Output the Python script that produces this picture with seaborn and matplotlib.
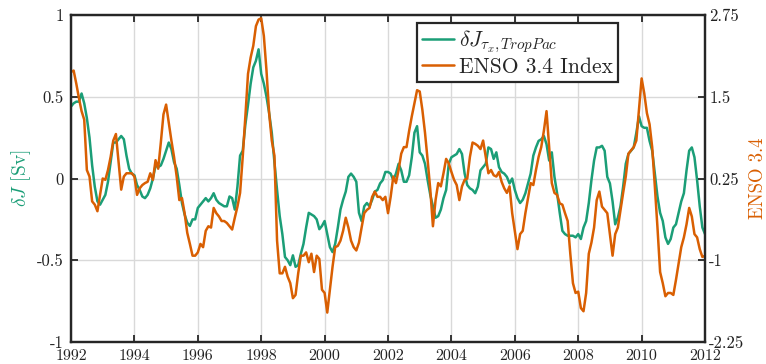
import numpy as np
import pandas as pd
import matplotlib
matplotlib.use("Agg")
import matplotlib.pyplot as plt
import seaborn as sns

# Monthly series, January 1992 through January 2012
start_year = 1992
end_year = 2012

# Wind-stress driven transport anomaly in the tropical Pacific [Sv]
dJ = [
    0.44, 0.46, 0.47, 0.47, 0.52, 0.46, 0.37, 0.25, 0.08, -0.05, -0.14, -0.16,
    -0.13, -0.10, -0.02, 0.10, 0.22, 0.22, 0.24, 0.26, 0.24, 0.14, 0.06, 0.03,
    0.02, -0.04, -0.07, -0.11, -0.12, -0.10, -0.06, 0.00, 0.08, 0.07, 0.08, 0.12,
    0.17, 0.22, 0.18, 0.10, 0.06, -0.04, -0.15, -0.22, -0.27, -0.29, -0.25, -0.25,
    -0.18, -0.16, -0.14, -0.12, -0.14, -0.12, -0.09, -0.13, -0.15, -0.16, -0.17, -0.17,
    -0.11, -0.12, -0.19, -0.05, 0.14, 0.17, 0.33, 0.45, 0.58, 0.68, 0.72, 0.79,
    0.64, 0.58, 0.50, 0.40, 0.28, 0.10, -0.07, -0.23, -0.34, -0.48, -0.50, -0.53,
    -0.47, -0.54, -0.53, -0.46, -0.40, -0.30, -0.21, -0.22, -0.23, -0.25, -0.31, -0.29,
    -0.26, -0.34, -0.42, -0.45, -0.40, -0.30, -0.19, -0.13, -0.08, 0.01, 0.03, 0.01,
    -0.02, -0.21, -0.26, -0.17, -0.15, -0.17, -0.13, -0.08, -0.07, -0.03, -0.01, 0.04,
    0.04, 0.03, -0.01, 0.03, 0.09, 0.05, -0.02, -0.02, 0.02, 0.13, 0.28, 0.32,
    0.16, 0.14, 0.09, -0.01, -0.10, -0.17, -0.24, -0.23, -0.19, -0.12, -0.07, 0.09,
    0.13, 0.14, 0.15, 0.18, 0.15, 0.03, -0.04, -0.06, -0.07, -0.09, -0.05, 0.05,
    0.07, 0.09, 0.19, 0.18, 0.12, 0.16, 0.07, 0.04, 0.03, 0.01, -0.03, 0.00,
    -0.07, -0.12, -0.15, -0.13, -0.09, -0.03, 0.03, 0.14, 0.19, 0.23, 0.24, 0.26,
    0.21, 0.11, 0.16, 0.01, -0.09, -0.21, -0.32, -0.34, -0.35, -0.35, -0.35, -0.36,
    -0.34, -0.37, -0.30, -0.26, -0.15, -0.01, 0.11, 0.19, 0.19, 0.20, 0.17, 0.01,
    -0.03, -0.14, -0.28, -0.24, -0.17, -0.05, 0.09, 0.15, 0.17, 0.19, 0.28, 0.38,
    0.32, 0.31, 0.31, 0.23, 0.17, 0.03, -0.11, -0.21, -0.26, -0.36, -0.40, -0.37,
    -0.30, -0.28, -0.21, -0.14, -0.09, 0.05, 0.17, 0.19, 0.13, -0.01, -0.17, -0.30,
    -0.34,
]

# Nino 3.4 index
enso = [
    1.88, 1.90, 1.70, 1.48, 1.28, 1.15, 0.38, 0.28, -0.10, -0.15, -0.25, 0.00,
    0.25, 0.23, 0.38, 0.58, 0.83, 0.93, 0.50, 0.08, 0.28, 0.33, 0.33, 0.33,
    0.28, 0.00, 0.10, 0.15, 0.18, 0.20, 0.33, 0.23, 0.53, 0.40, 0.80, 1.23,
    1.38, 1.10, 0.83, 0.58, 0.28, -0.08, -0.05, -0.28, -0.58, -0.75, -0.93, -0.93,
    -0.88, -0.75, -0.80, -0.55, -0.48, -0.50, -0.20, -0.28, -0.33, -0.40, -0.40, -0.43,
    -0.48, -0.53, -0.35, -0.18, 0.03, 0.58, 1.20, 1.85, 2.10, 2.28, 2.58, 2.68,
    2.70, 2.43, 1.90, 1.25, 0.83, 0.60, -0.70, -1.20, -1.20, -1.10, -1.25, -1.35,
    -1.58, -1.53, -1.20, -0.93, -0.93, -0.88, -1.03, -0.90, -1.18, -0.93, -0.98, -1.45,
    -1.50, -1.80, -1.45, -1.10, -0.80, -0.78, -0.70, -0.55, -0.35, -0.50, -0.70, -0.80,
    -0.85, -0.73, -0.50, -0.28, -0.23, -0.20, -0.03, 0.05, -0.03, -0.03, -0.08, -0.03,
    -0.28, -0.03, 0.28, 0.18, 0.38, 0.63, 0.73, 0.73, 0.98, 1.20, 1.40, 1.60,
    1.58, 1.30, 0.95, 0.53, 0.08, -0.48, -0.08, 0.18, 0.13, 0.33, 0.55, 0.48,
    0.35, 0.23, 0.15, -0.08, 0.13, 0.23, 0.25, 0.58, 0.80, 0.78, 0.75, 0.70,
    0.83, 0.58, 0.33, 0.38, 0.30, 0.28, 0.35, 0.20, 0.10, 0.03, 0.13, -0.28,
    -0.55, -0.83, -0.60, -0.55, -0.28, -0.05, 0.18, 0.15, 0.38, 0.58, 0.73, 0.98,
    1.28, 0.73, 0.18, 0.03, 0.00, -0.13, -0.15, -0.28, -0.40, -0.90, -1.35, -1.50,
    -1.48, -1.73, -1.78, -1.50, -0.90, -0.73, -0.50, -0.08, 0.05, -0.18, -0.23, -0.28,
    -0.60, -0.93, -0.60, -0.50, -0.23, 0.03, 0.28, 0.63, 0.68, 0.73, 0.83, 1.30,
    1.78, 1.55, 1.25, 1.08, 0.73, 0.13, -0.50, -1.18, -1.35, -1.55, -1.50, -1.50,
    -1.53, -1.30, -1.05, -0.80, -0.65, -0.45, -0.20, -0.33, -0.60, -0.65, -0.83, -0.95,
    -0.93,
]

x_ticks = [1992, 1994, 1996, 1998, 2000, 2002, 2004, 2006, 2008, 2010, 2012]
left_ticks = [-1, -0.5, 0, 0.5, 1]
left_labels = ["-1", "-0.5", "0", "0.5", "1"]
right_ticks = [-2.25, -1, 0.25, 1.5, 2.75]
right_labels = ["-2.25", "-1", "0.25", "1.5", "2.75"]

green = "#1b9e77"
orange = "#d95f02"

sns.set_style("white")
plt.rcParams["font.family"] = ["cmr10", "DejaVu Serif"]
plt.rcParams["mathtext.fontset"] = "cm"
plt.rcParams["axes.unicode_minus"] = False

time = start_year + np.arange(len(dJ)) / 12.0
df = pd.DataFrame({"time": time, "dJ": dJ, "enso": enso})

fig = plt.figure(figsize=(7.66, 3.64), dpi=100)
ax = fig.add_axes([0.0927, 0.0604, 0.8277, 0.8984])
ax2 = ax.twinx()

sns.lineplot(data=df, x="time", y="dJ", ax=ax, color=green, lw=1.8,
             label=r"$\delta J_{\tau_x,TropPac}$", legend=False)
sns.lineplot(data=df, x="time", y="enso", ax=ax2, color=orange, lw=1.8,
             label="ENSO 3.4 Index", legend=False)

ax.set_xlim(start_year, end_year)
ax.set_ylim(-1, 1)
ax2.set_ylim(-2.25, 2.75)

ax.set_xticks(x_ticks)
ax.set_xticklabels([str(t) for t in x_ticks])
ax.set_yticks(left_ticks)
ax.set_yticklabels(left_labels)
ax2.set_yticks(right_ticks)
ax2.set_yticklabels(right_labels)

ax.grid(True, color="#d9d9d9", lw=1.0)
ax.set_axisbelow(True)

for a in (ax, ax2):
    for s in a.spines.values():
        s.set_visible(True)
        s.set_color("#262626")
        s.set_linewidth(1.6)
    a.tick_params(direction="in", length=5, width=1.3, colors="#262626",
                  labelsize=12, labelcolor="#222222")
ax.tick_params(axis="x", top=True, bottom=True, pad=5.5, labelsize=11.5)
ax.tick_params(axis="y", left=True, right=False, pad=5)
ax2.tick_params(axis="y", right=True, left=False, pad=3)

ax.set_xlabel("")
ax.set_ylabel(r"$\delta J$ [Sv]", color=green, fontsize=14, labelpad=3)
ax2.set_ylabel("ENSO 3.4", color=orange, fontsize=13.5, labelpad=3)

h1, l1 = ax.get_legend_handles_labels()
h2, l2 = ax2.get_legend_handles_labels()
leg = ax2.legend(h1 + h2, l1 + l2, loc="upper left",
                 bbox_to_anchor=(0.545, 0.975), fontsize=15.5, frameon=True,
                 fancybox=False, framealpha=1, edgecolor="#262626",
                 handlelength=1.5, handletextpad=0.2, borderpad=0.25,
                 labelspacing=0.1, borderaxespad=0)
leg.get_frame().set_linewidth(1.6)

fig.savefig("out.png", dpi=100)
